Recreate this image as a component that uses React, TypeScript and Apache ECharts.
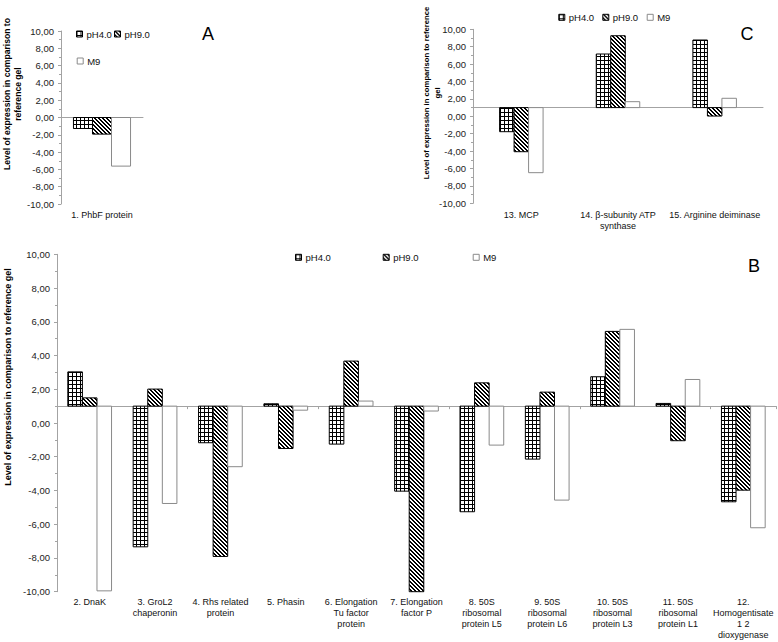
import React, { useEffect, useRef } from 'react';
import * as echarts from 'echarts';

const seriesNames = ['pH4.0', 'pH9.0', 'M9'];

// Panel A
const catsA = ['1. PhbF protein'];
const aPH4 = [-1.27];
const aPH9 = [-1.92];
const aM9 = [-5.62];

// Panel C
const catsC = ['13. MCP', '14. β-subunity ATP\nsynthase', '15. Arginine deiminase'];
const cPH4 = [-1.77, 7.16, 8.77];
const cPH9 = [-4.07, 9.26, 0.03];
const cM9 = [-6.48, 1.68, 2.07];

// Panel B
const catsB = [
  '2. DnaK',
  '3. GroL2\nchaperonin',
  '4. Rhs related\nprotein',
  '5. Phasin',
  '6. Elongation\nTu factor\nprotein',
  '7. Elongation\nfactor P',
  '8. 50S\nribosomal\nprotein L5',
  '9. 50S\nribosomal\nprotein L6',
  '10. 50S\nribosomal\nprotein L3',
  '11. 50S\nribosomal\nprotein L1',
  '12.\nHomogentisate\n1 2\ndioxygenase',
];
const bPH4 = [3.03, -7.34, -1.17, 1.14, -1.25, -4.04, -5.26, -2.14, 2.74, 1.16, -4.67];
const bPH9 = [1.49, 2.01, -7.91, -1.51, 3.67, -10.0, 2.38, 1.83, 5.43, -1.05, -3.98];
const bM9 = [-9.95, -4.77, -2.59, 0.76, 1.3, 0.71, -1.31, -4.57, 5.55, 2.58, -6.21];

const yMin = -10;
const yMax = 10;
const yStep = 2;

const FONT = '"Liberation Sans", Arial, sans-serif';
const AXIS_GRAY = '#a3a3a3';

function makePatterns() {
  const cross = document.createElement('canvas');
  cross.width = 4;
  cross.height = 4;
  const c1 = cross.getContext('2d')!;
  c1.fillStyle = '#fff';
  c1.fillRect(0, 0, 4, 4);
  c1.fillStyle = '#000';
  c1.fillRect(0, 0, 4, 1);
  c1.fillRect(0, 0, 1, 4);

  const diag = document.createElement('canvas');
  diag.width = 4;
  diag.height = 4;
  const c2 = diag.getContext('2d')!;
  c2.fillStyle = '#fff';
  c2.fillRect(0, 0, 4, 4);
  c2.fillStyle = '#000';
  for (let x = 0; x < 4; x++) {
    for (let y = 0; y < 4; y++) {
      if ((((x - y) % 4) + 4) % 4 < 2) c2.fillRect(x, y, 1, 1);
    }
  }
  return {
    cross: { image: cross, repeat: 'repeat', imageWidth: 4, imageHeight: 4 },
    diag: { image: diag, repeat: 'repeat', imageWidth: 4, imageHeight: 4 },
  };
}

interface PanelDef {
  left: number;
  top: number;
  width: number;
  height: number;
  cats: string[];
  values: number[][];
  base: number;
  ratio: number;
  baseTicks: boolean;
  labelMargin: number;
}

export default function App() {
  const ref = useRef<HTMLDivElement>(null);

  useEffect(() => {
    if (!ref.current) return;
    const chart = echarts.init(ref.current, null, { renderer: 'svg' });
    const pat = makePatterns();
    const fills = [pat.cross, pat.diag, '#ffffff'];
    const strokes = ['#000000', '#000000', '#8a8a8a'];

    const panels: PanelDef[] = [
      { left: 61, top: 31, width: 82, height: 173, cats: catsA, values: [aPH4, aPH9, aM9], base: 0, ratio: 0.232, baseTicks: false, labelMargin: 5 },
      { left: 473, top: 29.3, width: 290, height: 174, cats: catsC, values: [cPH4, cPH9, cM9], base: 1, ratio: 0.15, baseTicks: false, labelMargin: 6 },
      { left: 57, top: 254.3, width: 719, height: 337.4, cats: catsB, values: [bPH4, bPH9, bM9], base: 1, ratio: 0.223, baseTicks: true, labelMargin: 5 },
    ];

    const grid: any[] = [];
    const xAxis: any[] = [];
    const yAxis: any[] = [];
    const series: any[] = [];

    panels.forEach((p, pi) => {
      grid.push({ left: p.left, top: p.top, width: p.width, height: p.height, outerBoundsMode: 'none', containLabel: false });
      xAxis.push({
        type: 'category',
        gridIndex: pi,
        data: p.cats,
        position: 'bottom',
        axisLine: { show: false, onZero: false },
        axisTick: { show: false },
        axisLabel: { interval: 0, fontSize: 9, lineHeight: 11, color: '#111', margin: p.labelMargin, fontFamily: FONT },
      });
      const off = (p.height * (p.base - yMin)) / (yMax - yMin);
      xAxis.push({
        type: 'category',
        gridIndex: pi,
        data: p.cats,
        position: 'bottom',
        offset: -off,
        axisLine: { show: true, onZero: false, lineStyle: { color: AXIS_GRAY, width: 1 } },
        axisTick: { show: p.baseTicks, length: 3, lineStyle: { color: AXIS_GRAY } },
        axisLabel: { show: false },
      });
      yAxis.push({
        type: 'value',
        gridIndex: pi,
        min: yMin,
        max: yMax,
        interval: yStep,
        axisLine: { show: true, lineStyle: { color: AXIS_GRAY } },
        axisTick: { show: true, length: 3, lineStyle: { color: AXIS_GRAY } },
        minorTick: { show: true, splitNumber: 2, length: 2, lineStyle: { color: AXIS_GRAY } },
        splitLine: { show: false },
        axisLabel: {
          fontSize: 9.5,
          color: '#222',
          margin: 7,
          fontFamily: FONT,
          formatter: (v: number) => v.toFixed(2).replace('.', ','),
        },
      });
      p.values.forEach((vals, si) => {
        const fill = fills[si];
        const stroke = strokes[si];
        series.push({
          type: 'custom',
          name: seriesNames[si],
          xAxisIndex: pi * 2,
          yAxisIndex: pi,
          silent: true,
          data: vals.map((v, i) => [i, v]),
          encode: { x: 0, y: 1 },
          itemStyle: { color: fill, borderColor: stroke, borderWidth: 1 },
          renderItem: (params: any, api: any) => {
            const cat = api.value(0);
            const v = api.value(1);
            const band = api.size([1, 0])[0];
            const w = band * p.ratio;
            const b = api.coord([cat, p.base]);
            const t = api.coord([cat, v]);
            const x = b[0] + (si - 1.5) * w;
            const y = Math.min(b[1], t[1]);
            const h = Math.abs(b[1] - t[1]);
            return {
              type: 'rect',
              shape: { x, y, width: w, height: h },
              style: { fill, stroke, lineWidth: 1 },
            };
          },
        });
      });
    });

    const legendItem = (name: string, si: number, textStart: number, yc: number) => ({
      show: true,
      selectedMode: false,
      left: textStart - 10,
      top: yc - 6,
      padding: 0,
      itemWidth: 6,
      itemHeight: 6,
      itemGap: 0,
      textStyle: { fontSize: 9.5, color: '#111', fontFamily: FONT, padding: [0, 0, 0, -1] },
      data: [{ name, icon: 'rect', itemStyle: { color: fills[si], borderColor: strokes[si], borderWidth: 1 } }],
    });

    const legend = [
      legendItem('pH4.0', 0, 86, 35),
      legendItem('pH9.0', 1, 124, 35),
      legendItem('M9', 2, 86.7, 62),
      legendItem('pH4.0', 0, 568.3, 18.3),
      legendItem('pH9.0', 1, 612.3, 18.3),
      legendItem('M9', 2, 656.7, 18.3),
      legendItem('pH4.0', 0, 305, 258.3),
      legendItem('pH9.0', 1, 392.7, 258.3),
      legendItem('M9', 2, 482.7, 258.3),
    ];

    const letter = (t: string, x: number, y: number) => ({
      type: 'text',
      x,
      y,
      silent: true,
      style: { text: t, fontSize: 18, fontFamily: FONT, fill: '#000', align: 'center', verticalAlign: 'middle' },
    });
    const axisTitle = (t: string, x: number, y: number, size: number, lh: number) => ({
      type: 'text',
      x,
      y,
      rotation: Math.PI / 2,
      silent: true,
      style: {
        text: t,
        fontSize: size,
        fontWeight: 'bold',
        fontFamily: FONT,
        fill: '#000',
        align: 'center',
        verticalAlign: 'middle',
        lineHeight: lh,
      },
    });

    const graphic = [
      letter('A', 208, 34),
      letter('C', 747, 34),
      letter('B', 754, 266),
      axisTitle('Level of expression in comparison to\nreference gel', 12.8, 94, 8.6, 11),
      axisTitle('Level of expression in comparison to reference\ngel', 432, 93, 7.7, 10.6),
      axisTitle('Level of expression in comparison to reference gel', 7.5, 377, 9, 11),
    ];

    chart.setOption({
      animation: false,
      backgroundColor: '#ffffff',
      grid,
      xAxis,
      yAxis,
      series,
      legend,
      graphic,
    });

    return () => {
      chart.dispose();
    };
  }, []);

  return (
    <div
      ref={ref}
      style={{ position: 'absolute', left: 0, top: 0, width: 778, height: 642, background: '#fff' }}
    />
  );
}
